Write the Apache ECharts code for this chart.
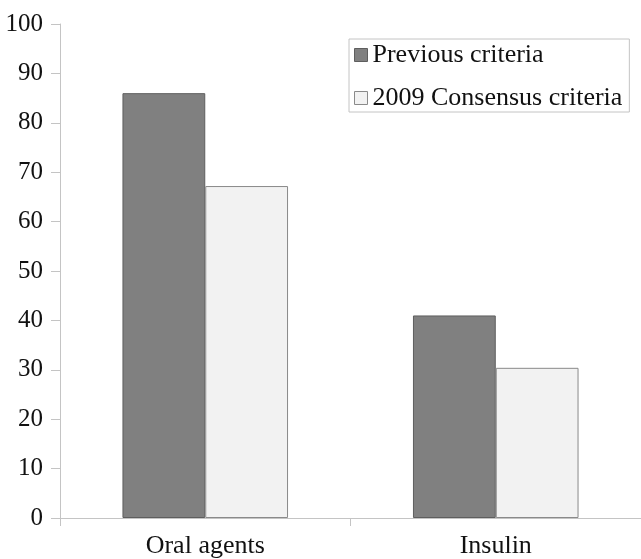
<!DOCTYPE html>
<html>
<head>
<meta charset="utf-8">
<script src="https://cdn.jsdelivr.net/npm/echarts@6/dist/echarts.min.js"></script>
<style>html,body{margin:0;padding:0;background:#fff}#c{width:641px;height:559px}</style>
</head>
<body>
<div id="c"></div>
<script>
const categories = ["Oral agents", "Insulin"];
const seriesNames = ["Previous criteria", "2009 Consensus criteria"];
const previousValues = [86, 41];
const consensusValues = [67.2, 30.4];
const yTicks = { min: 0, max: 100, interval: 10 };

const font = "Liberation Serif";
const chart = echarts.init(document.getElementById('c'));
chart.setOption({
  animation: false,
  backgroundColor: '#fff',
  textStyle: { fontFamily: font },
  grid: { left: 60, right: 0, top: 24, bottom: 41, containLabel: false },
  legend: {
    orient: 'vertical',
    left: 349, top: 39,
    padding: [3, 7, 1, 5],
    itemGap: 17,
    itemWidth: 13, itemHeight: 13,
    icon: 'rect',
    borderColor: '#c4c4c4', borderWidth: 1,
    textStyle: { fontFamily: font, fontSize: 26, color: '#111', lineHeight: 26, padding: [0, 0, 0, 0] },
    itemStyle: { borderWidth: 1 },
    data: seriesNames
  },
  xAxis: {
    type: 'category',
    data: categories,
    axisLine: { lineStyle: { color: '#c4c4c4', width: 1 } },
    axisTick: { show: true, length: 8, lineStyle: { color: '#c4c4c4' } },
    axisLabel: { fontFamily: font, fontSize: 26, color: '#111', margin: 15 },
    splitLine: { show: false }
  },
  yAxis: {
    type: 'value',
    min: yTicks.min, max: yTicks.max, interval: yTicks.interval,
    axisLine: { show: true, lineStyle: { color: '#c4c4c4', width: 1 } },
    axisTick: { show: true, length: 9, lineStyle: { color: '#c4c4c4' } },
    axisLabel: { fontFamily: font, fontSize: 25, color: '#111', margin: 17 },
    splitLine: { show: false }
  },
  series: [
    {
      name: seriesNames[0], type: 'bar', data: previousValues,
      barGap: '0%', barCategoryGap: '43%',
      itemStyle: { color: '#808080', borderColor: '#5e5e5e', borderWidth: 1 }
    },
    {
      name: seriesNames[1], type: 'bar', data: consensusValues,
      barGap: '0%', barCategoryGap: '43%',
      itemStyle: { color: '#f2f2f2', borderColor: '#8a8a8a', borderWidth: 1 }
    }
  ]
});
</script>
</body>
</html>
